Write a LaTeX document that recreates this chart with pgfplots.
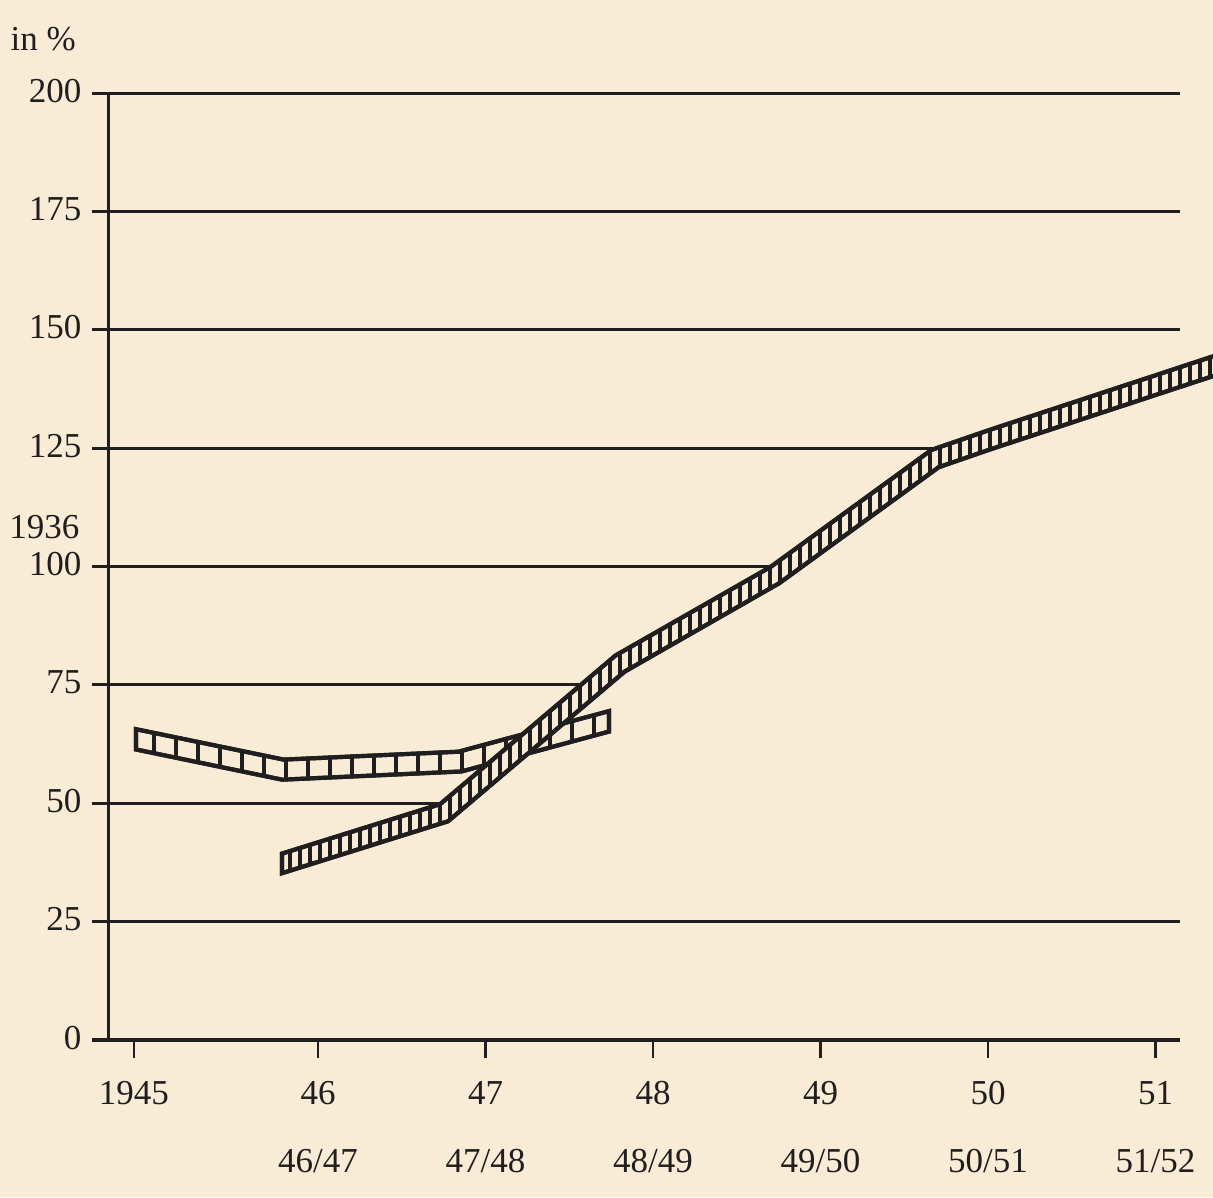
\documentclass[border=0pt]{standalone}
\usepackage{fontspec}
\setmainfont{Liberation Serif}
\usepackage{pgfplots}
\pgfplotsset{compat=1.18}
\usetikzlibrary{patterns.meta}
\definecolor{paper}{RGB}{249,236,214}
\definecolor{ink}{RGB}{32,30,30}
\begin{document}
\fontsize{10.5}{12.6}\selectfont
\begin{tikzpicture}
\path[use as bounding box, fill=paper] (-32.4pt,-47.1pt) rectangle (331.5pt,312pt);
\begin{axis}[
  at={(0pt,0pt)}, anchor=south west,
  scale only axis, width=331.5pt, height=284.1pt,
  xmin=1944.746, xmax=1951.343, ymin=0, ymax=200,
  clip=false,
  axis line style={draw=none},
  tick pos=left,
  tick align=outside,
  major tick length=5.4pt,
  xtick={1944.901,1946,1947,1948,1949,1950,1951},
  xticklabels={1945,{46\\46/47},{47\\47/48},{48\\48/49},{49\\49/50},{50\\50/51},{51\\51/52}},
  xticklabel style={font=\fontsize{10.5}{20.4}\selectfont, align=center, text=ink, inner sep=0pt, anchor=north, yshift=-6.8pt},
  xtick style={draw=ink, line width=0.7pt},
  ytick={0,25,50,75,100,125,150,175,200},
  yticklabels={0,25,50,75,100,125,150,175,200},
  ytick style={draw=none},
  yticklabel style={font=\fontsize{10.5}{12}\selectfont, text=ink, inner sep=0pt, anchor=base east, xshift=-2.4pt, yshift=-2.7pt},
]
% gridlines
\addplot[ink, line width=1.2pt, mark=none] coordinates {(1944.651,0)(1951.146,0)};
\addplot[ink, line width=0.9pt, mark=none] coordinates {(1944.651,25)(1951.146,25)};
\addplot[ink, line width=0.9pt, mark=none] coordinates {(1944.651,50)(1946.788,50)};
\addplot[ink, line width=0.9pt, mark=none] coordinates {(1944.651,75)(1947.654,75)};
\addplot[ink, line width=0.9pt, mark=none] coordinates {(1944.651,100)(1948.798,100)};
\addplot[ink, line width=0.9pt, mark=none] coordinates {(1944.651,125)(1949.863,125)};
\addplot[ink, line width=0.9pt, mark=none] coordinates {(1944.651,150)(1951.146,150)};
\addplot[ink, line width=0.9pt, mark=none] coordinates {(1944.651,175)(1951.146,175)};
\addplot[ink, line width=0.9pt, mark=none] coordinates {(1944.651,200)(1951.146,200)};
% y axis line
\addplot[ink, line width=0.9pt, mark=none] coordinates {(1944.746,0)(1944.746,200)};
% band 1
\addplot[draw=ink, line width=1.25pt, line join=miter, mark=none, fill=paper,
  postaction={pattern={Lines[angle=90,distance=6.6pt,line width=1.0pt]}, pattern color=ink}]
  coordinates {(1944.913,65.64)(1945.795,59.22)(1946.839,60.89)(1947.737,69.46)
               (1947.737,65.14)(1946.856,56.71)(1945.786,54.98)(1944.913,61.36)} -- cycle;
% band 2
\addplot[draw=ink, line width=1.25pt, line join=miter, mark=none, fill=paper,
  postaction={pattern={Lines[angle=90,distance=3pt,line width=0.95pt]}, pattern color=ink}]
  coordinates {(1945.785,39.37)(1946.729,49.81)(1947.776,81.21)(1948.703,99.94)
               (1949.662,124.62)(1950.012,128.88)(1951.385,144.87)
               (1951.385,140.70)(1950.012,124.72)(1949.706,120.98)(1948.753,96.46)
               (1947.830,77.79)(1946.776,46.19)(1945.785,35.23)} -- cycle;
\node[anchor=base west, inner sep=0pt, text=ink] at (axis cs:1944.161,209.08) {in \%};
\node[anchor=base east, inner sep=0pt, text=ink] at (axis cs:1944.579,106.0) {1936};
\end{axis}
\end{tikzpicture}
\end{document}
